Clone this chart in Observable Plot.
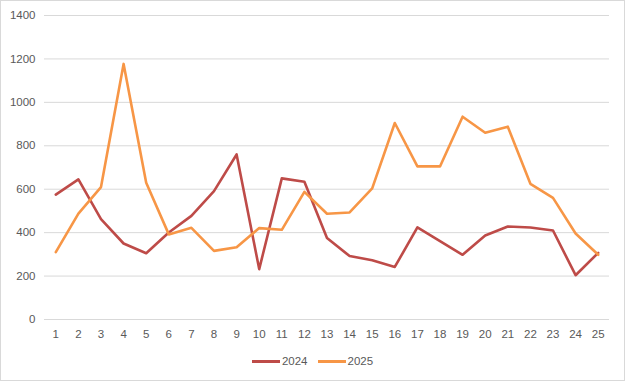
<!DOCTYPE html>
<html>
<head>
<meta charset="utf-8">
<script src="https://cdn.jsdelivr.net/npm/d3@7"></script>
<script src="https://cdn.jsdelivr.net/npm/@observablehq/plot@0.6"></script>
<style>
  html, body { margin: 0; padding: 0; background: #fff; }
  #frame {
    position: relative;
    width: 623px; height: 379px;
    border: 1px solid #d9d9d9;
    font-family: "Liberation Sans", Arial, sans-serif;
    color: #595959;
  }
  #legend {
    position: absolute; left: 0; right: 0; top: 354px;
    display: flex; justify-content: center; align-items: center;
    font-size: 11.5px; color: #595959;
  }
  .item { display: flex; align-items: center; margin: 0 5px; }
  .swatch { width: 28px; height: 3px; margin-right: 2px; }
</style>
</head>
<body>
<div id="frame">
  <div id="chart"></div>
  <div id="legend"></div>
</div>
<script>
const categories = [1,2,3,4,5,6,7,8,9,10,11,12,13,14,15,16,17,18,19,20,21,22,23,24,25];
const series2024 = [575,645,462,350,305,401,477,591,760,232,650,634,375,292,273,242,424,361,298,387,428,424,410,204,307];
const series2025 = [310,488,610,1177,630,392,422,316,333,421,413,588,487,493,604,905,705,705,934,860,888,625,560,396,298];
const seriesNames = ["2024", "2025"];
const seriesColors = ["#BE4B48", "#F79646"];
const yTicks = [0,200,400,600,800,1000,1200,1400];

const rows = [];
[series2024, series2025].forEach((vals, s) => {
  vals.forEach((v, i) => rows.push({cat: categories[i], value: v, series: seriesNames[s]}));
});

const plot = Plot.plot({
  width: 623,
  height: 348,
  marginLeft: 43,
  marginRight: 15,
  marginTop: 14,
  marginBottom: 30,
  style: {fontFamily: "Liberation Sans, Arial, sans-serif", fontSize: "11.5px", color: "#595959", background: "#fff"},
  x: {type: "point", domain: categories, padding: 0.5, round: false, label: null, tickSize: 0, tickPadding: 10},
  y: {domain: [0, 1400], ticks: yTicks, tickFormat: d => String(d), label: null, tickSize: 0, tickPadding: 9},
  color: {domain: seriesNames, range: seriesColors},
  marks: [
    Plot.ruleY(yTicks, {stroke: "#d9d9d9", strokeWidth: 1}),
    Plot.line(rows, {x: "cat", y: "value", z: "series", stroke: "series", strokeWidth: 2.6, strokeLinejoin: "round", strokeLinecap: "round"})
  ]
});
document.getElementById("chart").appendChild(plot);

const legend = document.getElementById("legend");
seriesNames.forEach((name, i) => {
  const item = document.createElement("div");
  item.className = "item";
  const sw = document.createElement("div");
  sw.className = "swatch";
  sw.style.background = seriesColors[i];
  const label = document.createElement("span");
  label.textContent = name;
  item.appendChild(sw);
  item.appendChild(label);
  legend.appendChild(item);
});
</script>
</body>
</html>
